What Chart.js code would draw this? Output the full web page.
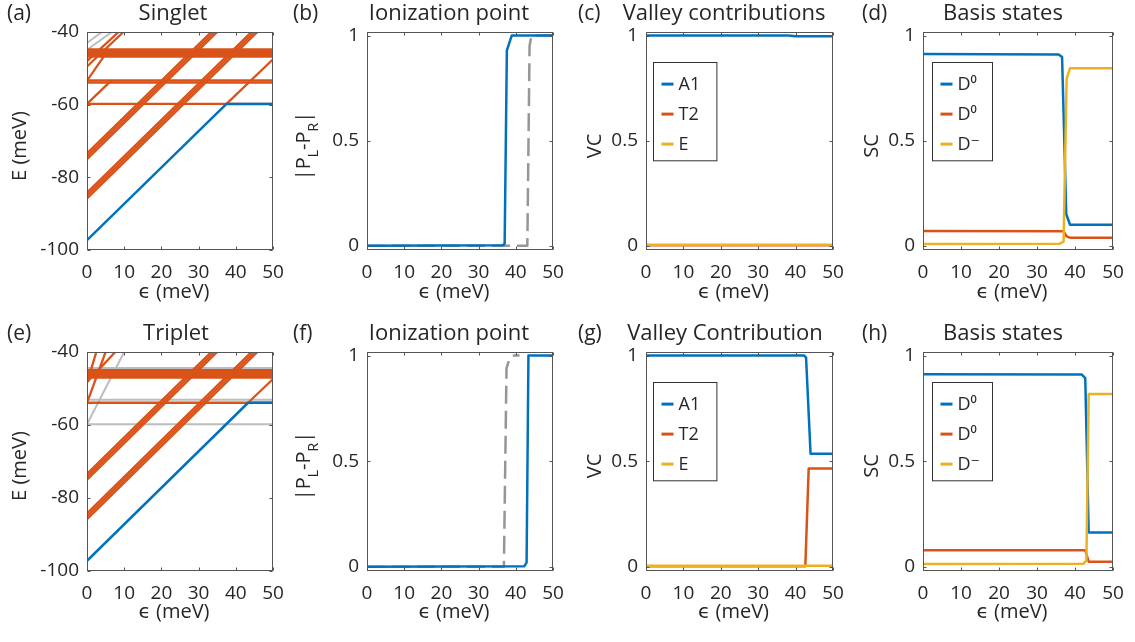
<!DOCTYPE html>
<html><head><meta charset="utf-8">
<script src="https://cdn.jsdelivr.net/npm/chart.js@4.4.1/dist/chart.umd.min.js"></script>
<style>
html,body{margin:0;padding:0;background:#fff;}
#wrap{position:relative;width:1135px;height:642px;overflow:hidden;background:#fff;}
.pc{position:absolute;}
</style></head><body><div id="wrap"></div>
<script>
// ---------------- data ----------------
const epsLimits = [0, 50];
const epsTicks = [0, 10, 20, 30, 40, 50];
const energyLimits = [-100, -40];
const energyTicks = [-100, -80, -60, -40];
const unitLimits = [-0.02, 1.017];
const unitTicks = [0, 0.5, 1];

// (a) Singlet spectrum  [eps, E]
const singletGround = [[0,-97.3],[37.5,-59.8],[50,-59.8]];
const singletFlatLevels = [-44.8,-45.3,-45.8,-46.3,-46.8,-53.3,-53.9,-59.8];
const singletSlopedLevels = [
  [[0,-85.8],[45.8,-40]], [[0,-85.0],[45.0,-40]], [[0,-84.2],[44.2,-40]],
  [[0,-75.0],[35.0,-40]], [[0,-74.2],[34.2,-40]], [[0,-73.4],[33.4,-40]],
  [[37.5,-59.8],[50,-47.5]],
  [[0,-59.8],[6.5,-53.4]], [[0,-53.4],[5,-46]],
  [[0,-49.5],[9.8,-40]], [[0,-48],[8.5,-40]]
];
const singletGrayFlat = [];
const singletGraySloped = [ [[0,-43],[4,-40]], [[0.4,-44.6],[6.7,-40]] ];

// (e) Triplet spectrum
const tripletGround = [[0,-97.2],[43.3,-53.9],[50,-53.9]];
const tripletFlatLevels = [-45.0,-45.5,-46.0,-46.5,-47.0,-53.9];
const tripletSlopedLevels = [
  [[0,-85.8],[45.8,-40]], [[0,-85.0],[45.0,-40]], [[0,-84.2],[44.2,-40]],
  [[0,-75.0],[35.0,-40]], [[0,-74.2],[34.2,-40]], [[0,-73.4],[33.4,-40]],
  [[43.3,-53.9],[50,-47.4]],
  [[0,-53.9],[5,-40]], [[0,-48.3],[7.6,-40]], [[0.3,-47.5],[2.5,-40]]
];
const tripletGrayFlat = [-44.4,-53.1,-59.8];
const tripletGraySloped = [ [[0,-59.8],[10,-40]] ];

// (b) / (f) ionization point |PL-PR|
const ionSingletBlue = [[0,0],[36.5,0.003],[37.0,0.01],[37.6,0.93],[38.9,1],[50,1]];
const ionSingletGray = [[0,0],[43.1,0],[43.7,0.95],[44.2,1],[50,1]];
const ionTripletBlue = [[0,0],[42.3,0.003],[42.9,0.02],[43.4,1],[50,1]];
const ionTripletGray = [[0,0],[36.8,0],[37.5,0.94],[38.4,0.99],[39.5,1],[41,1]];

// (c) / (g) valley contributions
const valleyLabels = ['A1','T2','E'];
const vcSingletA1 = [[0,1],[38,1],[40,0.997],[50,0.997]];
const vcSingletT2 = [[0,0.003],[50,0.003]];
const vcSingletE  = [[0,0.005],[50,0.005]];
const vcTripletA1 = [[0,1],[42.3,1],[42.8,0.99],[44.0,0.535],[50,0.535]];
const vcTripletT2 = [[0,0.003],[42.6,0.003],[43.5,0.465],[50,0.465]];
const vcTripletE  = [[0,0.005],[50,0.005]];

// (d) / (h) basis states
const basisLabels = ['D\u2070','D\u2070','D\u207B'];
const scSingletD0a = [[0,0.912],[35.7,0.91],[36.6,0.898],[37.7,0.15],[38.7,0.10],[50,0.10]];
const scSingletD0b = [[0,0.07],[37,0.069],[37.8,0.045],[38.8,0.038],[50,0.038]];
const scSingletDm  = [[0,0.008],[36,0.01],[37,0.02],[37.8,0.795],[38.7,0.845],[50,0.845]];
const scTripletD0a = [[0,0.912],[41.8,0.91],[42.7,0.893],[43.6,0.162],[50,0.162]];
const scTripletD0b = [[0,0.078],[42.7,0.078],[43.6,0.024],[50,0.024]];
const scTripletDm  = [[0,0.013],[42.2,0.014],[43.0,0.03],[43.6,0.818],[50,0.818]];

// ---------------- styles ----------------
const C = {blue:'#0072BD', orange:'#D95319', yellow:'#EDB120', gray:'#BDBDBD', dash:'#969696', axis:'#555555', text:'#262626'};
const FONT = "'Open Sans', 'DejaVu Sans', sans-serif";
const TICK_SIZE = 19, TITLE_SIZE = 22, LABEL_SIZE = 21, AXIS_SIZE = 20, SUB_SIZE = 14, LEG_SIZE = 18;
Chart.defaults.font.family = FONT;
Chart.defaults.color = C.text;

function pts(arr){ return arr.map(p => ({x:p[0], y:p[1]})); }
function lineDs(points, color, width, order, label, dash){
  return {label: label || '', inLegend: !!label, data: pts(points), borderColor: color, backgroundColor: color,
    borderWidth: width, pointRadius: 0, pointHoverRadius: 0, tension: 0, fill: false, order: order,
    borderDash: dash || [], borderJoinStyle: 'round', borderCapStyle: 'butt'};
}
function spectrum(ground, flat, sloped, grayFlat, graySloped){
  const ds = [];
  grayFlat.forEach(E => ds.push(lineDs([[epsLimits[0],E],[epsLimits[1],E]], C.gray, 2, 3)));
  graySloped.forEach(p => ds.push(lineDs(p, C.gray, 2, 3)));
  flat.forEach(E => ds.push(lineDs([[epsLimits[0],E],[epsLimits[1],E]], C.orange, 2.3, 2)));
  sloped.forEach(p => ds.push(lineDs(p, C.orange, 2.3, 2)));
  ds.push(lineDs(ground, C.blue, 2.5, 0));
  return ds;
}

// ---------------- layout ----------------
const cols = [
  {cx:0,   cw:310, l:87,  r:273,  labelX:7,   yTitleX:18.5},
  {cx:280, cw:310, l:367, r:553,  labelX:293, yTitleX:303},
  {cx:560, cw:310, l:646, r:833,  labelX:578, yTitleX:594},
  {cx:840, cw:310, l:923, r:1113, labelX:862, yTitleX:871}
];
const rows = [
  {cy:0,   ch:320, t:32,  b:250, textY:14,  yTitleY:146, xTitleY:292, tickPad:11},
  {cy:320, ch:322, t:352, b:571, textY:334, yTitleY:466, xTitleY:612, tickPad:11}
];
const PLR = [['|P',0],['L',1],['-P',0],['R',1],['|',0]];
const legBoxC = {dx:7.3, dy:29.7, w:63.4, h:98.3};
const legBoxD = {dx:9.4, dy:29.7, w:60, h:98.3};

const panels = [
  {col:0,row:0,label:'(a)',title:'Singlet',titleX:173,yLim:energyLimits,yTicks:energyTicks,yTitle:[['E (meV)',0]],
   datasets: spectrum(singletGround, singletFlatLevels, singletSlopedLevels, singletGrayFlat, singletGraySloped)},
  {col:1,row:0,label:'(b)',title:'Ionization point',titleX:449,yLim:unitLimits,yTicks:unitTicks,yTitle:PLR,
   datasets:[lineDs(ionSingletBlue,C.blue,2.5,0), lineDs(ionSingletGray,C.dash,2.5,1,null,[18,7])]},
  {col:2,row:0,label:'(c)',title:'Valley contributions',titleX:724,yLim:unitLimits,yTicks:unitTicks,yTitle:[['VC',0]],legend:legBoxC,
   datasets:[lineDs(vcSingletA1,C.blue,2.5,2,valleyLabels[0]), lineDs(vcSingletT2,C.orange,2.5,1,valleyLabels[1]), lineDs(vcSingletE,C.yellow,2.5,0,valleyLabels[2])]},
  {col:3,row:0,label:'(d)',title:'Basis states',titleX:1003,yLim:unitLimits,yTicks:unitTicks,yTitle:[['SC',0]],legend:legBoxD,
   datasets:[lineDs(scSingletD0a,C.blue,2.5,2,basisLabels[0]), lineDs(scSingletD0b,C.orange,2.5,1,basisLabels[1]), lineDs(scSingletDm,C.yellow,2.5,0,basisLabels[2])]},
  {col:0,row:1,label:'(e)',title:'Triplet',titleX:176,yLim:energyLimits,yTicks:energyTicks,yTitle:[['E (meV)',0]],
   datasets: spectrum(tripletGround, tripletFlatLevels, tripletSlopedLevels, tripletGrayFlat, tripletGraySloped)},
  {col:1,row:1,label:'(f)',title:'Ionization point',titleX:449,yLim:unitLimits,yTicks:unitTicks,yTitle:PLR,
   datasets:[lineDs(ionTripletBlue,C.blue,2.5,0), lineDs(ionTripletGray,C.dash,2.5,1,null,[18,7])]},
  {col:2,row:1,label:'(g)',title:'Valley Contribution',titleX:725,yLim:unitLimits,yTicks:unitTicks,yTitle:[['VC',0]],legend:legBoxC,
   datasets:[lineDs(vcTripletA1,C.blue,2.5,2,valleyLabels[0]), lineDs(vcTripletT2,C.orange,2.5,1,valleyLabels[1]), lineDs(vcTripletE,C.yellow,2.5,0,valleyLabels[2])]},
  {col:3,row:1,label:'(h)',title:'Basis states',titleX:1003,yLim:unitLimits,yTicks:unitTicks,yTitle:[['SC',0]],legend:legBoxD,
   datasets:[lineDs(scTripletD0a,C.blue,2.5,2,basisLabels[0]), lineDs(scTripletD0b,C.orange,2.5,1,basisLabels[1]), lineDs(scTripletDm,C.yellow,2.5,0,basisLabels[2])]}
];

// ---------------- decoration plugin ----------------
const frame = {
  id: 'frame',
  afterDraw(chart, args, o){
    const ctx = chart.ctx, a = chart.chartArea, xs = chart.scales.x, ys = chart.scales.y;
    ctx.save();
    const L = Math.round(a.left)+0.5, R = Math.round(a.right)-0.5, T = Math.round(a.top)+0.5, B = Math.round(a.bottom)-0.5;
    ctx.strokeStyle = C.axis; ctx.lineWidth = 1; ctx.setLineDash([]);
    ctx.strokeRect(L, T, R-L, B-T);
    ctx.beginPath();
    xs.ticks.forEach(t => { const px = Math.round(xs.getPixelForValue(t.value))+0.5;
      ctx.moveTo(px,B); ctx.lineTo(px,B-3); ctx.moveTo(px,T); ctx.lineTo(px,T+3); });
    ys.ticks.forEach(t => { const py = Math.round(ys.getPixelForValue(t.value))+0.5;
      ctx.moveTo(L,py); ctx.lineTo(L+3,py); ctx.moveTo(R,py); ctx.lineTo(R-3,py); });
    ctx.stroke();

    ctx.fillStyle = C.text;
    ctx.textBaseline = 'middle';
    ctx.font = LABEL_SIZE + 'px ' + FONT;
    ctx.textAlign = 'left'; ctx.fillText(o.label, o.labelX - o.ox, o.textY - o.oy);
    ctx.font = TITLE_SIZE + 'px ' + FONT;
    ctx.textAlign = 'center'; ctx.fillText(o.title, o.titleX - o.ox, o.textY - o.oy);
    ctx.font = AXIS_SIZE + 'px ' + FONT;
    ctx.fillText('\u03F5 (meV)', (a.left + a.right)/2 - 6, o.xTitleY - o.oy);
    ctx.save();
    ctx.translate(o.yTitleX - o.ox, o.yTitleY - o.oy);
    ctx.rotate(-Math.PI/2);
    ctx.textAlign = 'left'; ctx.textBaseline = 'alphabetic';
    const parts = o.yTitle.map(([s, sub]) => { ctx.font = (sub ? SUB_SIZE : AXIS_SIZE) + 'px ' + FONT; return {s, sub, w: ctx.measureText(s).width}; });
    let x = -parts.reduce((acc,p)=>acc+p.w,0)/2;
    parts.forEach(p => { ctx.font = (p.sub ? SUB_SIZE : AXIS_SIZE) + 'px ' + FONT; ctx.fillText(p.s, x, p.sub ? 15 : 7); x += p.w; });
    ctx.restore();
    if (o.legend){
      const g = o.legend, bx = Math.round(a.left + g.dx)+0.5, by = Math.round(a.top + g.dy)+0.5;
      ctx.fillStyle = '#ffffff'; ctx.fillRect(bx, by, g.w, g.h);
      ctx.strokeStyle = '#333333'; ctx.lineWidth = 1; ctx.strokeRect(bx, by, g.w, g.h);
      const items = chart.data.datasets.filter(d => d.inLegend);
      items.forEach((d,i) => {
        const yy = by + 21.6 + i*30;
        ctx.strokeStyle = d.borderColor; ctx.lineWidth = 3;
        ctx.beginPath(); ctx.moveTo(bx+8, yy); ctx.lineTo(bx+20, yy); ctx.stroke();
        ctx.fillStyle = C.text; ctx.font = LEG_SIZE + 'px ' + FONT; ctx.textAlign = 'left'; ctx.textBaseline = 'middle';
        ctx.fillText(d.label, bx+25, yy+1);
      });
    }
    ctx.restore();
  }
};

// ---------------- build ----------------
const wrap = document.getElementById('wrap');
panels.forEach(p => {
  const col = cols[p.col], row = rows[p.row];
  const cv = document.createElement('canvas');
  cv.width = col.cw; cv.height = row.ch;
  cv.style.width = col.cw+'px'; cv.style.height = row.ch+'px';
  cv.style.left = col.cx+'px'; cv.style.top = row.cy+'px';
  cv.className = 'pc';
  wrap.appendChild(cv);
  const yW = col.l - col.cx, xH = row.cy + row.ch - row.b;
  new Chart(cv, {
    type: 'line',
    data: {datasets: p.datasets},
    options: {
      responsive: false, maintainAspectRatio: false, animation: false, events: [],
      layout: {padding: {top: row.t - row.cy, right: col.cx + col.cw - col.r, left: 0, bottom: 0}},
      scales: {
        x: {type:'linear', min: epsLimits[0], max: epsLimits[1],
            afterBuildTicks: s => { s.ticks = epsTicks.map(v => ({value:v})); },
            afterFit: s => { s.height = xH; },
            grid:{display:false, drawTicks:false}, border:{display:false},
            ticks:{padding: row.tickPad, maxRotation:0, autoSkip:false, color:C.text, font:{size:TICK_SIZE}, callback: v => String(v)}},
        y: {type:'linear', min: p.yLim[0], max: p.yLim[1],
            afterBuildTicks: s => { s.ticks = p.yTicks.map(v => ({value:v})); },
            afterFit: s => { s.width = yW; },
            grid:{display:false, drawTicks:false}, border:{display:false},
            ticks:{padding: 8, autoSkip:false, color:C.text, font:{size:TICK_SIZE}, callback: v => String(v)}}
      },
      plugins: {
        legend:{display:false}, tooltip:{enabled:false},
        frame: {ox: col.cx, oy: row.cy, label: p.label, labelX: col.labelX, title: p.title, titleX: p.titleX,
                textY: row.textY, xTitleY: row.xTitleY, yTitle: p.yTitle, yTitleX: col.yTitleX, yTitleY: row.yTitleY,
                legend: p.legend || null}
      }
    },
    plugins: [frame]
  });
});
</script>
</body></html>
